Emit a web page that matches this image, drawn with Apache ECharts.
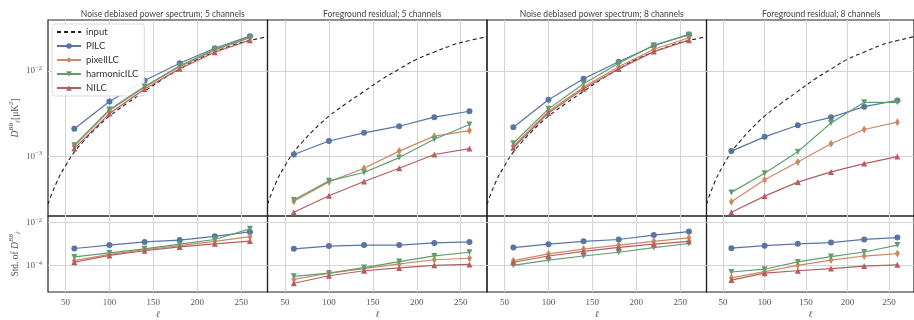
<!DOCTYPE html>
<html>
<head>
<meta charset="utf-8">
<script src="https://cdn.jsdelivr.net/npm/echarts@6/dist/echarts.min.js"></script>
<style>
  html, body { margin: 0; padding: 0; background: #fff; }
  #chart { width: 914px; height: 320px; }
</style>
</head>
<body>
<div id="chart"></div>
<script>
// multipole bins
var ell = [60, 100, 140, 180, 220, 260];

// input lensing spectrum
var inputEll = [30, 40, 50, 60, 70, 80, 90, 100, 120, 140, 160, 180, 200, 220, 240, 260, 280];
var inputDl = [2.75e-4, 5.0e-4, 7.76e-4, 1.12e-3, 1.48e-3, 1.91e-3, 2.40e-3, 2.95e-3, 4.17e-3, 5.75e-3, 7.94e-3, 1.047e-2, 1.37e-2, 1.66e-2, 1.995e-2, 2.265e-2, 2.51e-2];

// noise debiased, 5 channels
var pilc5 = [2.10e-3, 4.39e-3, 7.71e-3, 1.23e-2, 1.84e-2, 2.55e-2];
var pixel5 = [1.32e-3, 3.43e-3, 6.46e-3, 1.12e-2, 1.75e-2, 2.44e-2];
var harm5 = [1.35e-3, 3.52e-3, 6.57e-3, 1.15e-2, 1.79e-2, 2.46e-2];
var nilc5 = [1.23e-3, 3.16e-3, 6.12e-3, 1.06e-2, 1.65e-2, 2.29e-2];
var pilc5Std = [6.15e-4, 8.87e-4, 1.24e-3, 1.52e-3, 2.28e-3, 3.64e-3];
var pixel5Std = [1.66e-4, 3.24e-4, 5.37e-4, 8.3e-4, 1.33e-3, 2.2e-3];
var harm5Std = [2.47e-4, 3.83e-4, 5.9e-4, 9.8e-4, 1.62e-3, 5.1e-3];
var nilc5Std = [1.4e-4, 2.92e-4, 4.83e-4, 7.24e-4, 1.02e-3, 1.37e-3];

// foreground residual, 5 channels
var pilc5Fg = [1.05e-3, 1.51e-3, 1.88e-3, 2.25e-3, 2.87e-3, 3.37e-3];
var pixel5Fg = [2.97e-4, 5.02e-4, 7.24e-4, 1.15e-3, 1.72e-3, 2.0e-3];
var harm5Fg = [3.08e-4, 5.16e-4, 6.46e-4, 9.66e-4, 1.58e-3, 2.36e-3];
var nilc5Fg = [2.21e-4, 3.45e-4, 5.07e-4, 7.24e-4, 1.05e-3, 1.23e-3];
var pilc5FgStd = [5.9e-4, 8.0e-4, 8.9e-4, 8.9e-4, 1.12e-3, 1.24e-3];
var pixel5FgStd = [2.2e-5, 4.27e-5, 7.1e-5, 1.17e-4, 1.83e-4, 2.15e-4];
var harm5FgStd = [3.07e-5, 4.3e-5, 7.85e-5, 1.5e-4, 2.75e-4, 4.1e-4];
var nilc5FgStd = [1.46e-5, 3.27e-5, 5.6e-5, 7.6e-5, 1.0e-4, 1.1e-4];

// noise debiased, 8 channels
var pilc8 = [2.19e-3, 4.6e-3, 8.07e-3, 1.28e-2, 1.97e-2, 2.67e-2];
var pixel8 = [1.32e-3, 3.36e-3, 6.45e-3, 1.12e-2, 1.79e-2, 2.44e-2];
var harm8 = [1.42e-3, 3.59e-3, 7.06e-3, 1.23e-2, 2.0e-2, 2.64e-2];
var nilc8 = [1.26e-3, 3.22e-3, 6.18e-3, 1.055e-2, 1.68e-2, 2.29e-2];
var pilc8Std = [6.8e-4, 9.8e-4, 1.33e-3, 1.62e-3, 2.6e-3, 3.8e-3];
var pixel8Std = [1.66e-4, 3.47e-4, 5.75e-4, 8.87e-4, 1.33e-3, 1.93e-3];
var harm8Std = [1.0e-4, 1.76e-4, 2.73e-4, 4.1e-4, 6.8e-4, 1.05e-3];
var nilc8Std = [1.4e-4, 2.73e-4, 4.5e-4, 7.0e-4, 9.8e-4, 1.33e-3];

// foreground residual, 8 channels
var pilc8Fg = [1.15e-3, 1.69e-3, 2.31e-3, 2.86e-3, 3.81e-3, 4.51e-3];
var pixel8Fg = [2.94e-4, 5.3e-4, 8.59e-4, 1.4e-3, 2.06e-3, 2.51e-3];
var harm8Fg = [3.78e-4, 6.34e-4, 1.13e-3, 2.46e-3, 4.28e-3, 4.28e-3];
var nilc8Fg = [2.21e-4, 3.42e-4, 4.99e-4, 6.57e-4, 8.22e-4, 9.93e-4];
var pilc8FgStd = [6.35e-4, 8.3e-4, 1.02e-3, 1.16e-3, 1.63e-3, 2.0e-3];
var pixel8FgStd = [2.6e-5, 5.1e-5, 1.0e-4, 1.76e-4, 2.73e-4, 3.57e-4];
var harm8FgStd = [4.9e-5, 6.6e-5, 1.45e-4, 2.57e-4, 4.2e-4, 8.9e-4];
var nilc8FgStd = [2.05e-5, 4.3e-5, 5.6e-5, 7.1e-5, 9.3e-5, 1.06e-4];

var titles = [
  'Noise debiased power spectrum; 5 channels',
  'Foreground residual; 5 channels',
  'Noise debiased power spectrum; 8 channels',
  'Foreground residual; 8 channels'
];
var xTicks = [50, 100, 150, 200, 250];
var topTicks = [1e-3, 1e-2];
var bottomTicks = [1e-4, 1e-2];

var methods = ['PILC', 'pixelILC', 'harmonicILC', 'NILC'];
var topData = [
  [pilc5, pixel5, harm5, nilc5],
  [pilc5Fg, pixel5Fg, harm5Fg, nilc5Fg],
  [pilc8, pixel8, harm8, nilc8],
  [pilc8Fg, pixel8Fg, harm8Fg, nilc8Fg]
];
var bottomData = [
  [pilc5Std, pixel5Std, harm5Std, nilc5Std],
  [pilc5FgStd, pixel5FgStd, harm5FgStd, nilc5FgStd],
  [pilc8Std, pixel8Std, harm8Std, nilc8Std],
  [pilc8FgStd, pixel8FgStd, harm8FgStd, nilc8FgStd]
];

var colors = ['#5875a4', '#cc8963', '#5f9e6e', '#b55d60'];
var symbols = ['circle', 'diamond', 'triangle', 'triangle'];
var symbolSizes = [6, [5, 8], 6, 6];
var symbolRotates = [0, 0, 180, 0];

var panelLeft = [48, 267.5, 487, 706.5];
var panelWidth = 219.5;
var serif = '"Liberation Serif", "DejaVu Serif", serif';
var sans = '"Lato", "Liberation Sans", sans-serif';

function pairs(xs, ys)
{
  var out = [];
  for (var i = 0; i < xs.length; i++)
  {
    out.push([xs[i], ys[i]]);
  }
  return out;
}

function powerLabel(v)
{
  var e = Math.round(Math.log(v) / Math.LN10);
  return '{b|10}{s|\u2212' + Math.abs(e) + '}';
}

var tickRich = {
  b: { fontSize: 9, fontFamily: serif, color: '#555', lineHeight: 12 },
  s: { fontSize: 6.5, fontFamily: serif, color: '#555', lineHeight: 7, verticalAlign: 'top' }
};

var grids = [], xAxes = [], yAxes = [], series = [], titleList = [];

for (var p = 0; p < 4; p++)
{
  grids.push({ left: panelLeft[p], width: panelWidth, top: 20, height: 196, show: true, borderColor: '#222', borderWidth: 1.2, backgroundColor: 'transparent' });
  titleList.push({
    text: titles[p],
    left: panelLeft[p] + panelWidth / 2,
    top: 5,
    textAlign: 'center',
    textStyle: { fontSize: 8.5, fontWeight: 'normal', color: '#444', fontFamily: sans }
  });
}
for (var p = 0; p < 4; p++)
{
  grids.push({ left: panelLeft[p], width: panelWidth, top: 216, height: 81, show: true, borderColor: '#222', borderWidth: 1.2, backgroundColor: 'transparent' });
}

for (var g = 0; g < 8; g++)
{
  var isBottom = g >= 4;
  xAxes.push({
    type: 'value',
    gridIndex: g,
    min: 30,
    max: 280,
    axisLine: { show: false },
    axisTick: { show: false, customValues: xTicks },
    axisLabel: {
      show: isBottom,
      customValues: xTicks,
      margin: 6,
      fontSize: 9,
      fontFamily: serif,
      color: '#555'
    },
    splitLine: { show: true, lineStyle: { color: '#d4d4d4', width: 1 } },
    name: isBottom ? '\u2113' : '',
    nameLocation: 'middle',
    nameGap: 18,
    nameTextStyle: { fontSize: 9, fontFamily: serif, color: '#555', fontStyle: 'italic' }
  });
  var first = (g % 4) === 0;
  var yAxis = {
    type: 'log',
    logBase: 10,
    gridIndex: g,
    min: isBottom ? 5.68e-6 : 2.0e-4,
    max: isBottom ? 2.03e-2 : 3.94e-2,
    axisLine: { show: false },
    axisTick: { show: false, customValues: isBottom ? bottomTicks : topTicks },
    axisLabel: {
      show: first,
      customValues: isBottom ? bottomTicks : topTicks,
      margin: 6,
      formatter: powerLabel,
      rich: tickRich
    },
    splitLine: { show: true, lineStyle: { color: '#d4d4d4', width: 1 } }
  };
  if (first)
  {
    yAxis.nameLocation = 'middle';
    yAxis.nameRotate = 90;
    yAxis.nameGap = 25;
    if (isBottom)
    {
      yAxis.name = '{r|Std. of }{i|D}{sup|BB}{sub|\u2113}';
    }
    else
    {
      yAxis.name = '{i|D}{sup|BB}{sub|\u2113}{r|[\u03bcK}{sup|2}{r|]}';
    }
    yAxis.nameTextStyle = {
      color: '#555',
      rich: {
        r: { fontSize: 9.5, fontFamily: serif, color: '#555', lineHeight: 14 },
        i: { fontSize: 9.5, fontFamily: serif, fontStyle: 'italic', color: '#555', lineHeight: 14 },
        sup: { fontSize: 6.5, fontFamily: serif, fontStyle: 'italic', color: '#555', lineHeight: 7, verticalAlign: 'top' },
        sub: { fontSize: 6.5, fontFamily: serif, fontStyle: 'italic', color: '#555', lineHeight: 7, verticalAlign: 'bottom' }
      }
    };
  }
  yAxes.push(yAxis);
}

for (var p = 0; p < 4; p++)
{
  series.push({
    name: 'input',
    type: 'line',
    xAxisIndex: p,
    yAxisIndex: p,
    data: pairs(inputEll, inputDl),
    smooth: true,
    symbol: 'none',
    lineStyle: { color: '#222', width: 1.1, type: [4, 3] },
    itemStyle: { color: '#222' },
    z: 2
  });
  for (var m = 0; m < methods.length; m++)
  {
    var common = {
      name: methods[m],
      type: 'line',
      symbol: symbols[m],
      symbolSize: symbolSizes[m],
      symbolRotate: symbolRotates[m],
      lineStyle: { color: colors[m], width: 1.2 },
      itemStyle: { color: colors[m] },
      z: 3 + m
    };
    series.push(Object.assign({}, common, { xAxisIndex: p, yAxisIndex: p, data: pairs(ell, topData[p][m]) }));
    series.push(Object.assign({}, common, { xAxisIndex: p + 4, yAxisIndex: p + 4, data: pairs(ell, bottomData[p][m]) }));
  }
}

var chart = echarts.init(document.getElementById('chart'), null, { renderer: 'canvas' });
chart.setOption({
  animation: false,
  backgroundColor: '#fff',
  title: titleList,
  legend: {
    data: [
      { name: 'input', itemStyle: { opacity: 0 } },
      'PILC', 'pixelILC', 'harmonicILC', 'NILC'
    ],
    orient: 'vertical',
    left: 52,
    top: 24,
    itemWidth: 24,
    itemHeight: 7,
    itemGap: 4,
    padding: [3, 6, 3, 4],
    backgroundColor: 'rgba(255,255,255,0.9)',
    borderColor: '#d0d0d0',
    borderWidth: 0.8,
    borderRadius: 3,
    textStyle: { fontSize: 9.5, fontFamily: sans, color: '#333' }
  },
  grid: grids,
  xAxis: xAxes,
  yAxis: yAxes,
  series: series
});
</script>
</body>
</html>
